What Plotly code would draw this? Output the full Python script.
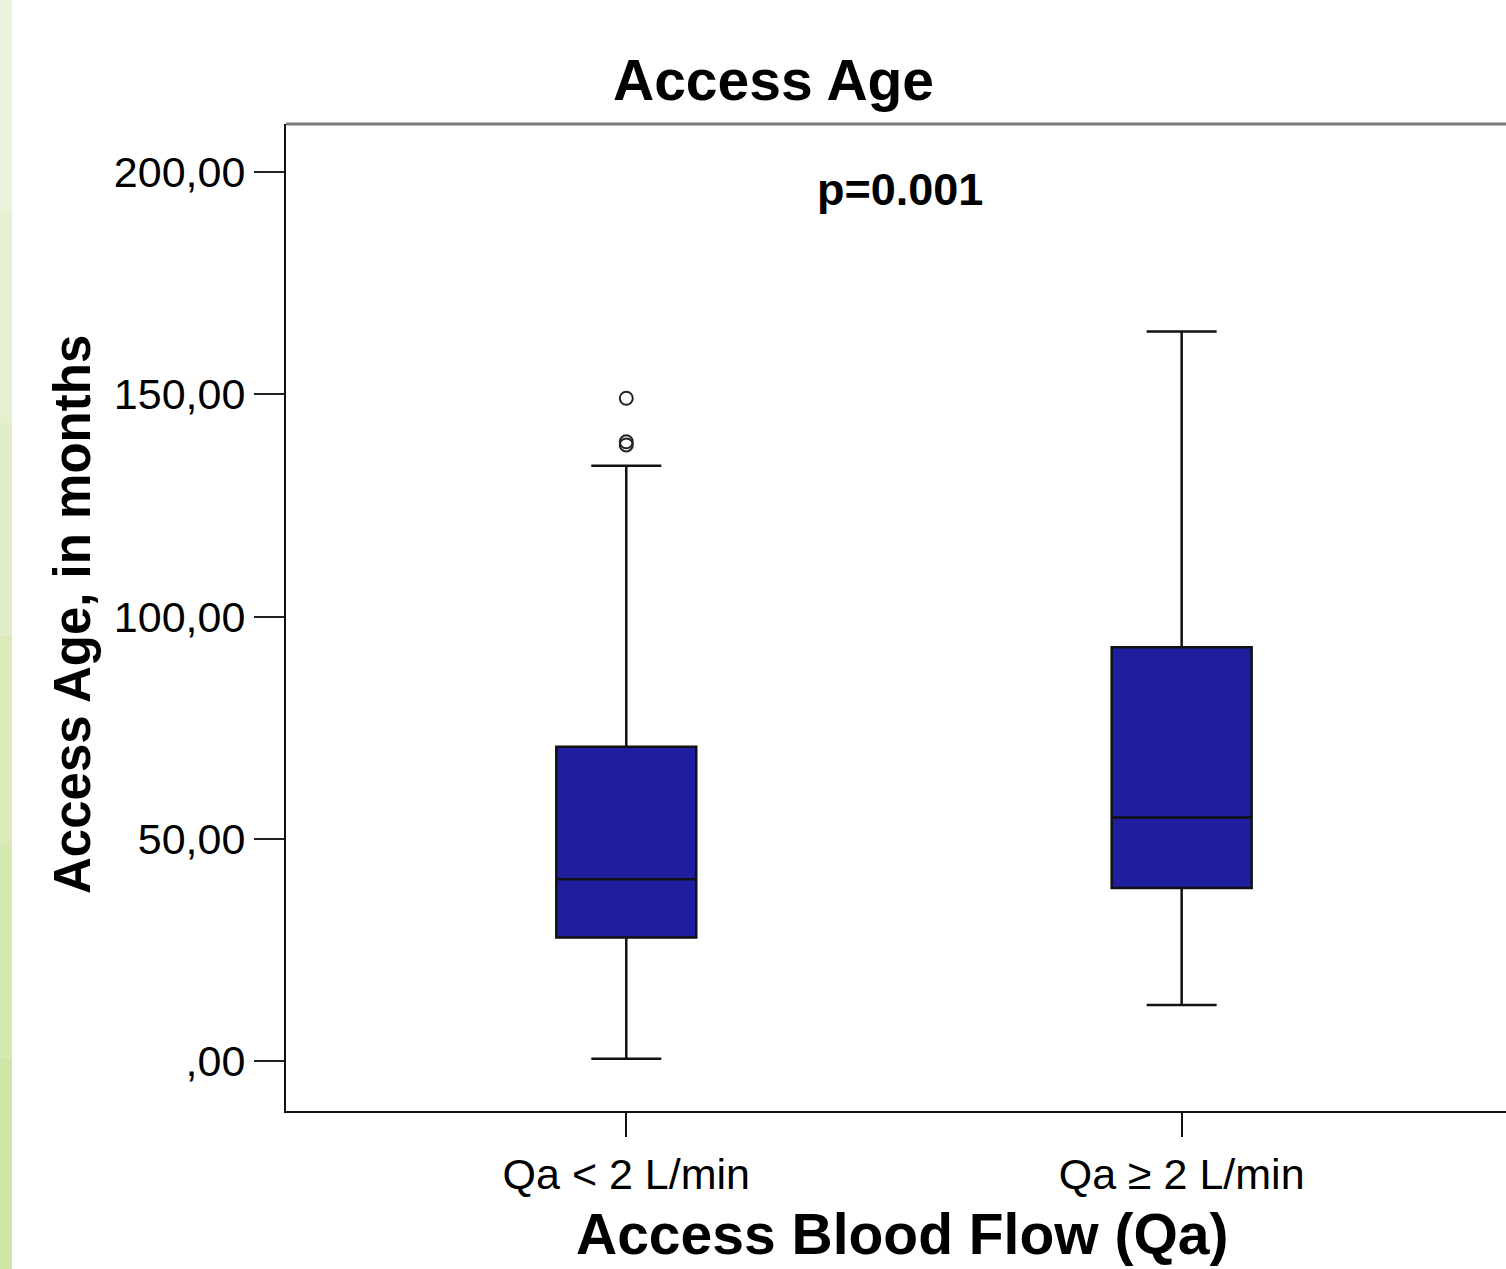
import plotly.graph_objects as go

# ---- data ----
categories = ["Qa < 2 L/min", "Qa \u2265 2 L/min"]
q1 = [27.8, 38.9]
median = [40.9, 54.8]
q3 = [70.7, 93.1]
lower_whisker = [0.5, 12.6]
upper_whisker = [133.9, 164.1]
outliers = [[149.1, 138.6, 139.3], []]

y_tickvals = [0, 50, 100, 150, 200]
y_ticktext = [",00", "50,00", "100,00", "150,00", "200,00"]

title_text = "Access Age"
p_text = "p=0.001"
x_title = "Access Blood Flow (Qa)"
y_title = "Access Age, in months"

FONT = "Liberation Sans, Arial, sans-serif"
BOX_FILL = "#1e1e9e"

fig = go.Figure()
for i, cat in enumerate(categories):
    kw = {}
    if outliers[i]:
        kw["y"] = [outliers[i]]
    fig.add_trace(go.Box(
        x=[cat],
        q1=[q1[i]], median=[median[i]], q3=[q3[i]],
        lowerfence=[lower_whisker[i]], upperfence=[upper_whisker[i]],
        boxpoints="outliers", pointpos=0, jitter=0,
        fillcolor=BOX_FILL,
        line=dict(color="#111111", width=2.5),
        marker=dict(symbol="circle-open", size=13, color="#222222",
                    line=dict(width=2, color="#222222")),
        width=0.252, whiskerwidth=0.5,
        showlegend=False, hoverinfo="skip",
        **kw,
    ))

fig.update_layout(
    width=1506, height=1269,
    margin=dict(l=286, r=0, t=124, b=158),
    paper_bgcolor="white", plot_bgcolor="white",
    font=dict(family=FONT, color="black"),
    showlegend=False,
)
fig.update_xaxes(
    type="category", categoryorder="array", categoryarray=categories,
    range=[-0.6127, 1.584],
    showgrid=False, zeroline=False,
    showline=True, linecolor="#111111", linewidth=2,
    ticks="outside", ticklen=24, tickwidth=2, tickcolor="#111111",
    tickfont=dict(size=43, family=FONT, color="black"),
)
fig.update_yaxes(
    range=[-11.25, 210.8],
    tickvals=y_tickvals, ticktext=y_ticktext,
    showgrid=False, zeroline=False,
    showline=True, linecolor="#111111", linewidth=2,
    ticks="outside", ticklen=30, tickwidth=2, tickcolor="#222222",
    tickfont=dict(size=43, family=FONT, color="black"),
)

shapes = []
# top frame line (grey)
shapes.append(dict(type="line", xref="paper", yref="paper", x0=0, x1=1, y0=1, y1=1,
                   line=dict(color="#7a7a7a", width=3)))
# decorative green strip at left edge
bands = ["#e9f3da", "#e4f0d0", "#dfedc6", "#daeabb", "#d5e8b0", "#d1e6a6"]
ytop, ybot = (1111 - 0) / 987, (1111 - 1269) / 987
for k, c in enumerate(bands):
    y0 = ytop + (ybot - ytop) * k / len(bands)
    y1 = ytop + (ybot - ytop) * (k + 1) / len(bands)
    shapes.append(dict(type="rect", xref="paper", yref="paper",
                       x0=(0 - 286) / 1220, x1=(12 - 286) / 1220, y0=y0, y1=y1,
                       fillcolor=c, line=dict(width=0), layer="below"))
fig.update_layout(shapes=shapes)

def px_x(px):
    return (px - 286) / 1220

def px_y(py):
    return (1111 - py) / 987

fig.add_annotation(text=f"<b>{title_text}</b>", xref="paper", yref="paper",
                   x=px_x(773), y=px_y(80), showarrow=False,
                   xanchor="center", yanchor="middle",
                   font=dict(size=57, family=FONT, color="black"))
fig.add_annotation(text=f"<b>{p_text}</b>", xref="paper", yref="paper",
                   x=px_x(900), y=px_y(190), showarrow=False,
                   xanchor="center", yanchor="middle",
                   font=dict(size=45, family=FONT, color="black"))
fig.add_annotation(text=f"<b>{x_title}</b>", xref="paper", yref="paper",
                   x=px_x(902), y=px_y(1234), showarrow=False,
                   xanchor="center", yanchor="middle",
                   font=dict(size=57, family=FONT, color="black"))
fig.add_annotation(text=f"<b>{y_title}</b>", xref="paper", yref="paper",
                   x=px_x(72), y=px_y(615), showarrow=False, textangle=-90,
                   xanchor="center", yanchor="middle",
                   font=dict(size=51, family=FONT, color="black"))

fig.write_html("out.html",
               config={"displayModeBar": False},
               post_script="document.body.style.margin='0';document.body.style.overflow='hidden';")
